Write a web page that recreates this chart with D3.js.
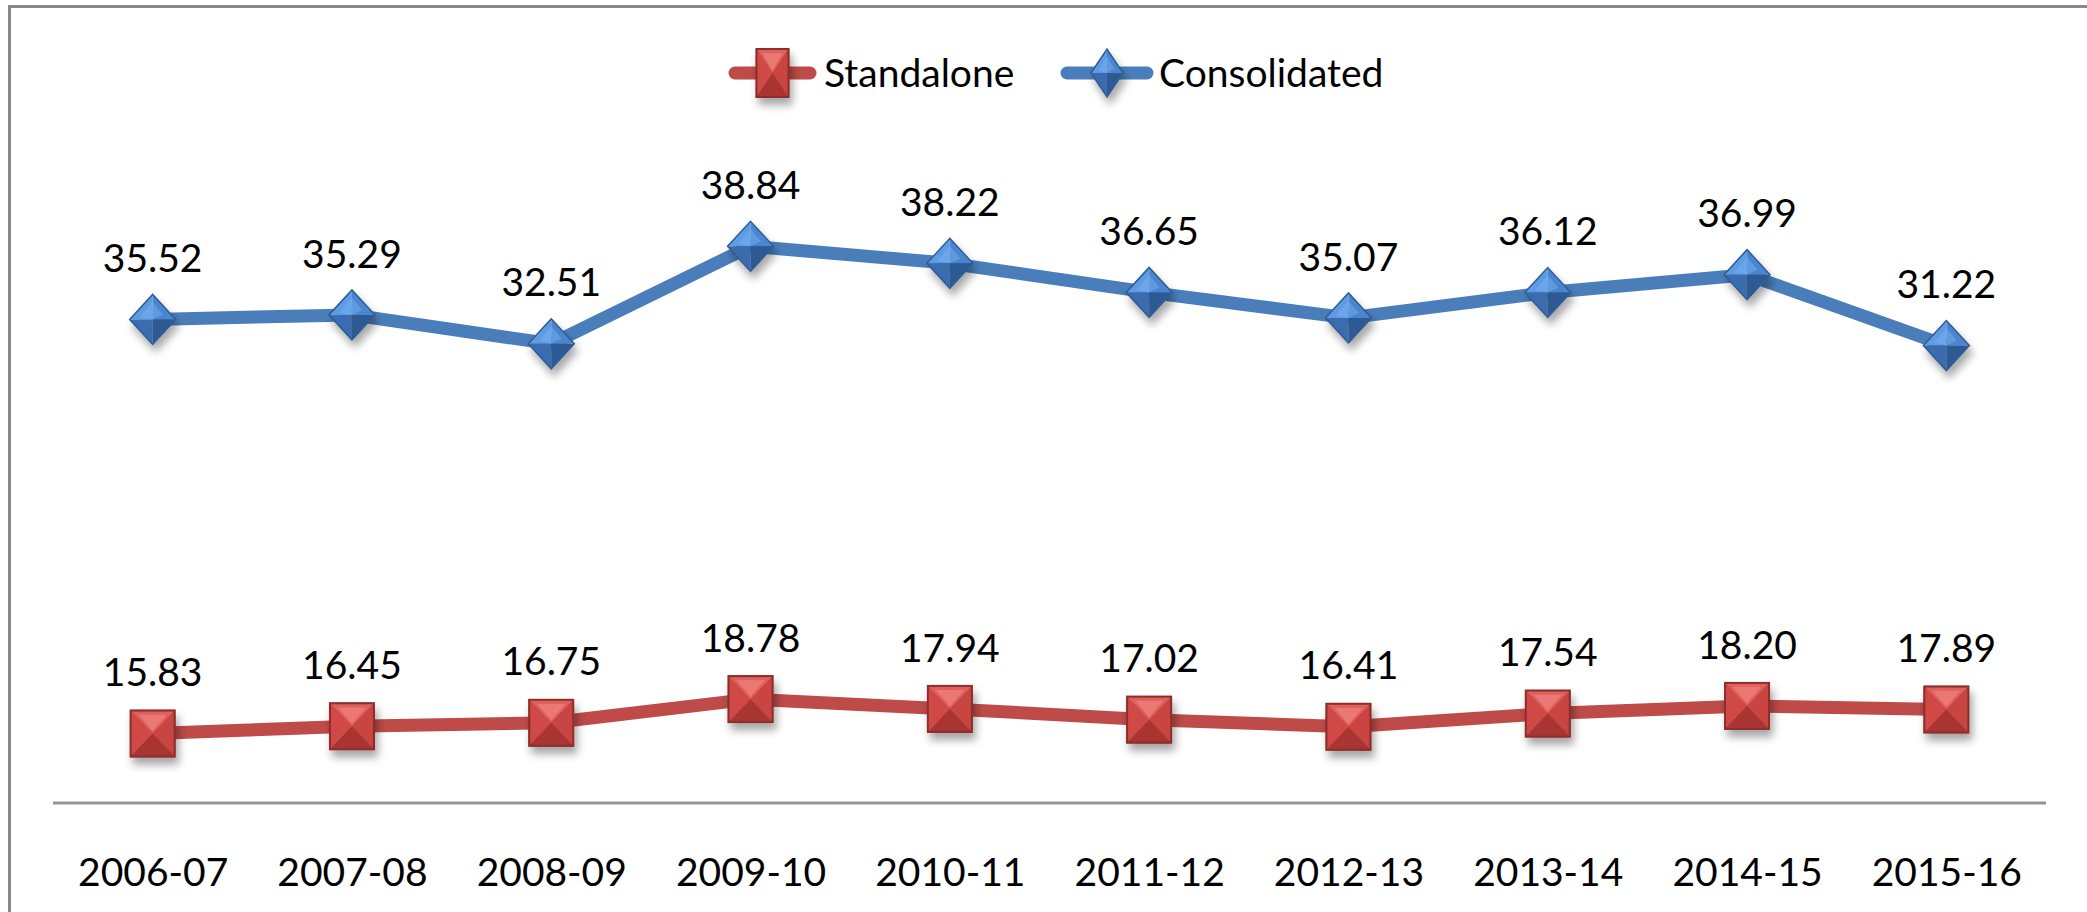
<!DOCTYPE html>
<html>
<head>
<meta charset="utf-8">
<script src="https://cdn.jsdelivr.net/npm/d3@7/dist/d3.min.js"></script>
<style>
  html, body { margin: 0; padding: 0; background: #fff; }
  svg { display: block; }
  text { font-family: Lato, "Open Sans", sans-serif; fill: #000; }
</style>
</head>
<body>
<script>
const categories = ["2006-07","2007-08","2008-09","2009-10","2010-11","2011-12","2012-13","2013-14","2014-15","2015-16"];
const standalone = [15.83, 16.45, 16.75, 18.78, 17.94, 17.02, 16.41, 17.54, 18.20, 17.89];
const consolidated = [35.52, 35.29, 32.51, 38.84, 38.22, 36.65, 35.07, 36.12, 36.99, 31.22];
const seriesNames = ["Standalone", "Consolidated"];

const W = 2087, H = 912;
const FS = 39;
const svg = d3.select("body").append("svg").attr("width", W).attr("height", H);
const defs = svg.append("defs");
const f = defs.append("filter").attr("id","shadow").attr("x","-50%").attr("y","-50%").attr("width","200%").attr("height","200%");
f.append("feDropShadow").attr("dx",3).attr("dy",7).attr("stdDeviation",4).attr("flood-color","#000").attr("flood-opacity",0.35);

// frame
svg.append("line").attr("x1",9.5).attr("x2",W).attr("y1",6.5).attr("y2",6.5).attr("stroke","#898989").attr("stroke-width",3);
svg.append("line").attr("x1",9.5).attr("x2",9.5).attr("y1",5).attr("y2",H).attr("stroke","#898989").attr("stroke-width",3);

const x = d3.scalePoint().domain(categories).range([53, 2046]).padding(0.5);
const y = d3.scaleLinear().domain([10, 70]).range([801.5, 102]);

// stacked line data
const table = categories.map((c, i) => ({cat: c, Standalone: standalone[i], Consolidated: consolidated[i]}));
const stacked = d3.stack().keys(seriesNames)(table);

const colors = {Standalone: "#be4b48", Consolidated: "#4a7ebb"};

// axis
const axisG = svg.append("g").attr("transform","translate(0,803)");
axisG.call(d3.axisBottom(x).tickSize(0).tickPadding(0));
axisG.select(".domain").attr("stroke","#959595").attr("stroke-width",3).attr("d","M53,0H2046");
axisG.selectAll(".tick text").attr("y", 69).attr("dy","0.35em").attr("font-size",FS).attr("font-family","Lato, 'Open Sans', sans-serif").attr("fill","#000");

function square(g, cx, cy, w, h) {
  const x0 = cx - w/2, x1 = cx + w/2, y0 = cy - h/2, y1 = cy + h/2;
  const ix = w*0.18, iy = h*0.18;
  const grp = g.append("g").attr("filter","url(#shadow)");
  grp.append("rect").attr("x",x0).attr("y",y0).attr("width",w).attr("height",h).attr("fill","#c0403d").attr("stroke","#8a2a28").attr("stroke-width",1.5);
  grp.append("path").attr("d",`M${x0},${y0}L${x1},${y0}L${cx},${cy}Z`).attr("fill","#e0605d");
  grp.append("path").attr("d",`M${x0+ix},${y0+iy*0.5}L${x1-ix},${y0+iy*0.5}L${cx},${cy-iy*0.3}Z`).attr("fill","#f08a87").attr("opacity",0.6);
  grp.append("path").attr("d",`M${x0},${y0}L${cx},${cy}L${x0},${y1}Z`).attr("fill","#d04a47");
  grp.append("path").attr("d",`M${x1},${y0}L${cx},${cy}L${x1},${y1}Z`).attr("fill","#c94542");
  grp.append("path").attr("d",`M${x0},${y1}L${cx},${cy}L${x1},${y1}Z`).attr("fill","#a93633");
  grp.append("rect").attr("x",x0).attr("y",y0).attr("width",w).attr("height",h).attr("fill","none").attr("stroke","#8e2e2b").attr("stroke-width",2);
}
function diamond(g, cx, cy, w, h) {
  const hw = w/2, hh = h/2;
  const grp = g.append("g").attr("filter","url(#shadow)");
  grp.append("path").attr("d",`M${cx-hw},${cy}L${cx},${cy-hh}L${cx},${cy}Z`).attr("fill","#5d9be3");
  grp.append("path").attr("d",`M${cx},${cy-hh}L${cx+hw},${cy}L${cx},${cy}Z`).attr("fill","#4a86cf");
  grp.append("path").attr("d",`M${cx-hw},${cy}L${cx},${cy+hh}L${cx},${cy}Z`).attr("fill","#3a6cae");
  grp.append("path").attr("d",`M${cx+hw},${cy}L${cx},${cy+hh}L${cx},${cy}Z`).attr("fill","#2d5a94");
  grp.append("path").attr("d",`M${cx-hw*0.55},${cy-hh*0.1}L${cx},${cy-hh*0.7}L${cx+hw*0.45},${cy-hh*0.2}L${cx},${cy}Z`).attr("fill","#7ab4f0").attr("opacity",0.45);
  grp.append("path").attr("d",`M${cx-hw},${cy}L${cx},${cy-hh}L${cx+hw},${cy}L${cx},${cy+hh}Z`).attr("fill","none").attr("stroke","#2f5c95").attr("stroke-width",1.5);
}

const line = d3.line().x(d => x(d.data.cat)).y(d => y(d[1]));
const plot = svg.append("g");
stacked.forEach(s => {
  plot.append("path").datum(s).attr("d", line).attr("fill","none")
    .attr("stroke", colors[s.key]).attr("stroke-width", 13).attr("stroke-linejoin","round");
});
stacked.forEach(s => {
  s.forEach(d => {
    const cx = x(d.data.cat), cy = y(d[1]);
    if (s.key === "Standalone") square(plot, cx, cy, 44, 46);
    else diamond(plot, cx, cy, 46, 50);
  });
});
// data labels
const vals = {Standalone: standalone, Consolidated: consolidated};
stacked.forEach(s => {
  plot.selectAll(null).data(s).enter().append("text")
    .attr("x", d => x(d.data.cat)).attr("y", d => y(d[1]) - 61)
    .attr("dy","0.35em").attr("text-anchor","middle").attr("font-size",FS)
    .text((d, i) => vals[s.key][i].toFixed(2));
});

// legend
const leg = svg.append("g");
const legY = 73;
const legItems = [
  {name: "Standalone", x0: 729, x1: 816, tx: 824},
  {name: "Consolidated", x0: 1061, x1: 1153, tx: 1159}
];
legItems.forEach(it => {
  leg.append("line").attr("x1", it.x0 + 6).attr("x2", it.x1 - 6).attr("y1", legY).attr("y2", legY)
    .attr("stroke", colors[it.name]).attr("stroke-width", 13).attr("stroke-linecap","round");
  const cx = (it.x0 + it.x1) / 2;
  if (it.name === "Standalone") square(leg, cx, legY, 32, 48);
  else diamond(leg, cx, legY, 32, 48);
  leg.append("text").attr("x", it.tx).attr("y", legY).attr("dy","0.35em").attr("font-size",FS).text(it.name);
});
</script>
</body>
</html>
